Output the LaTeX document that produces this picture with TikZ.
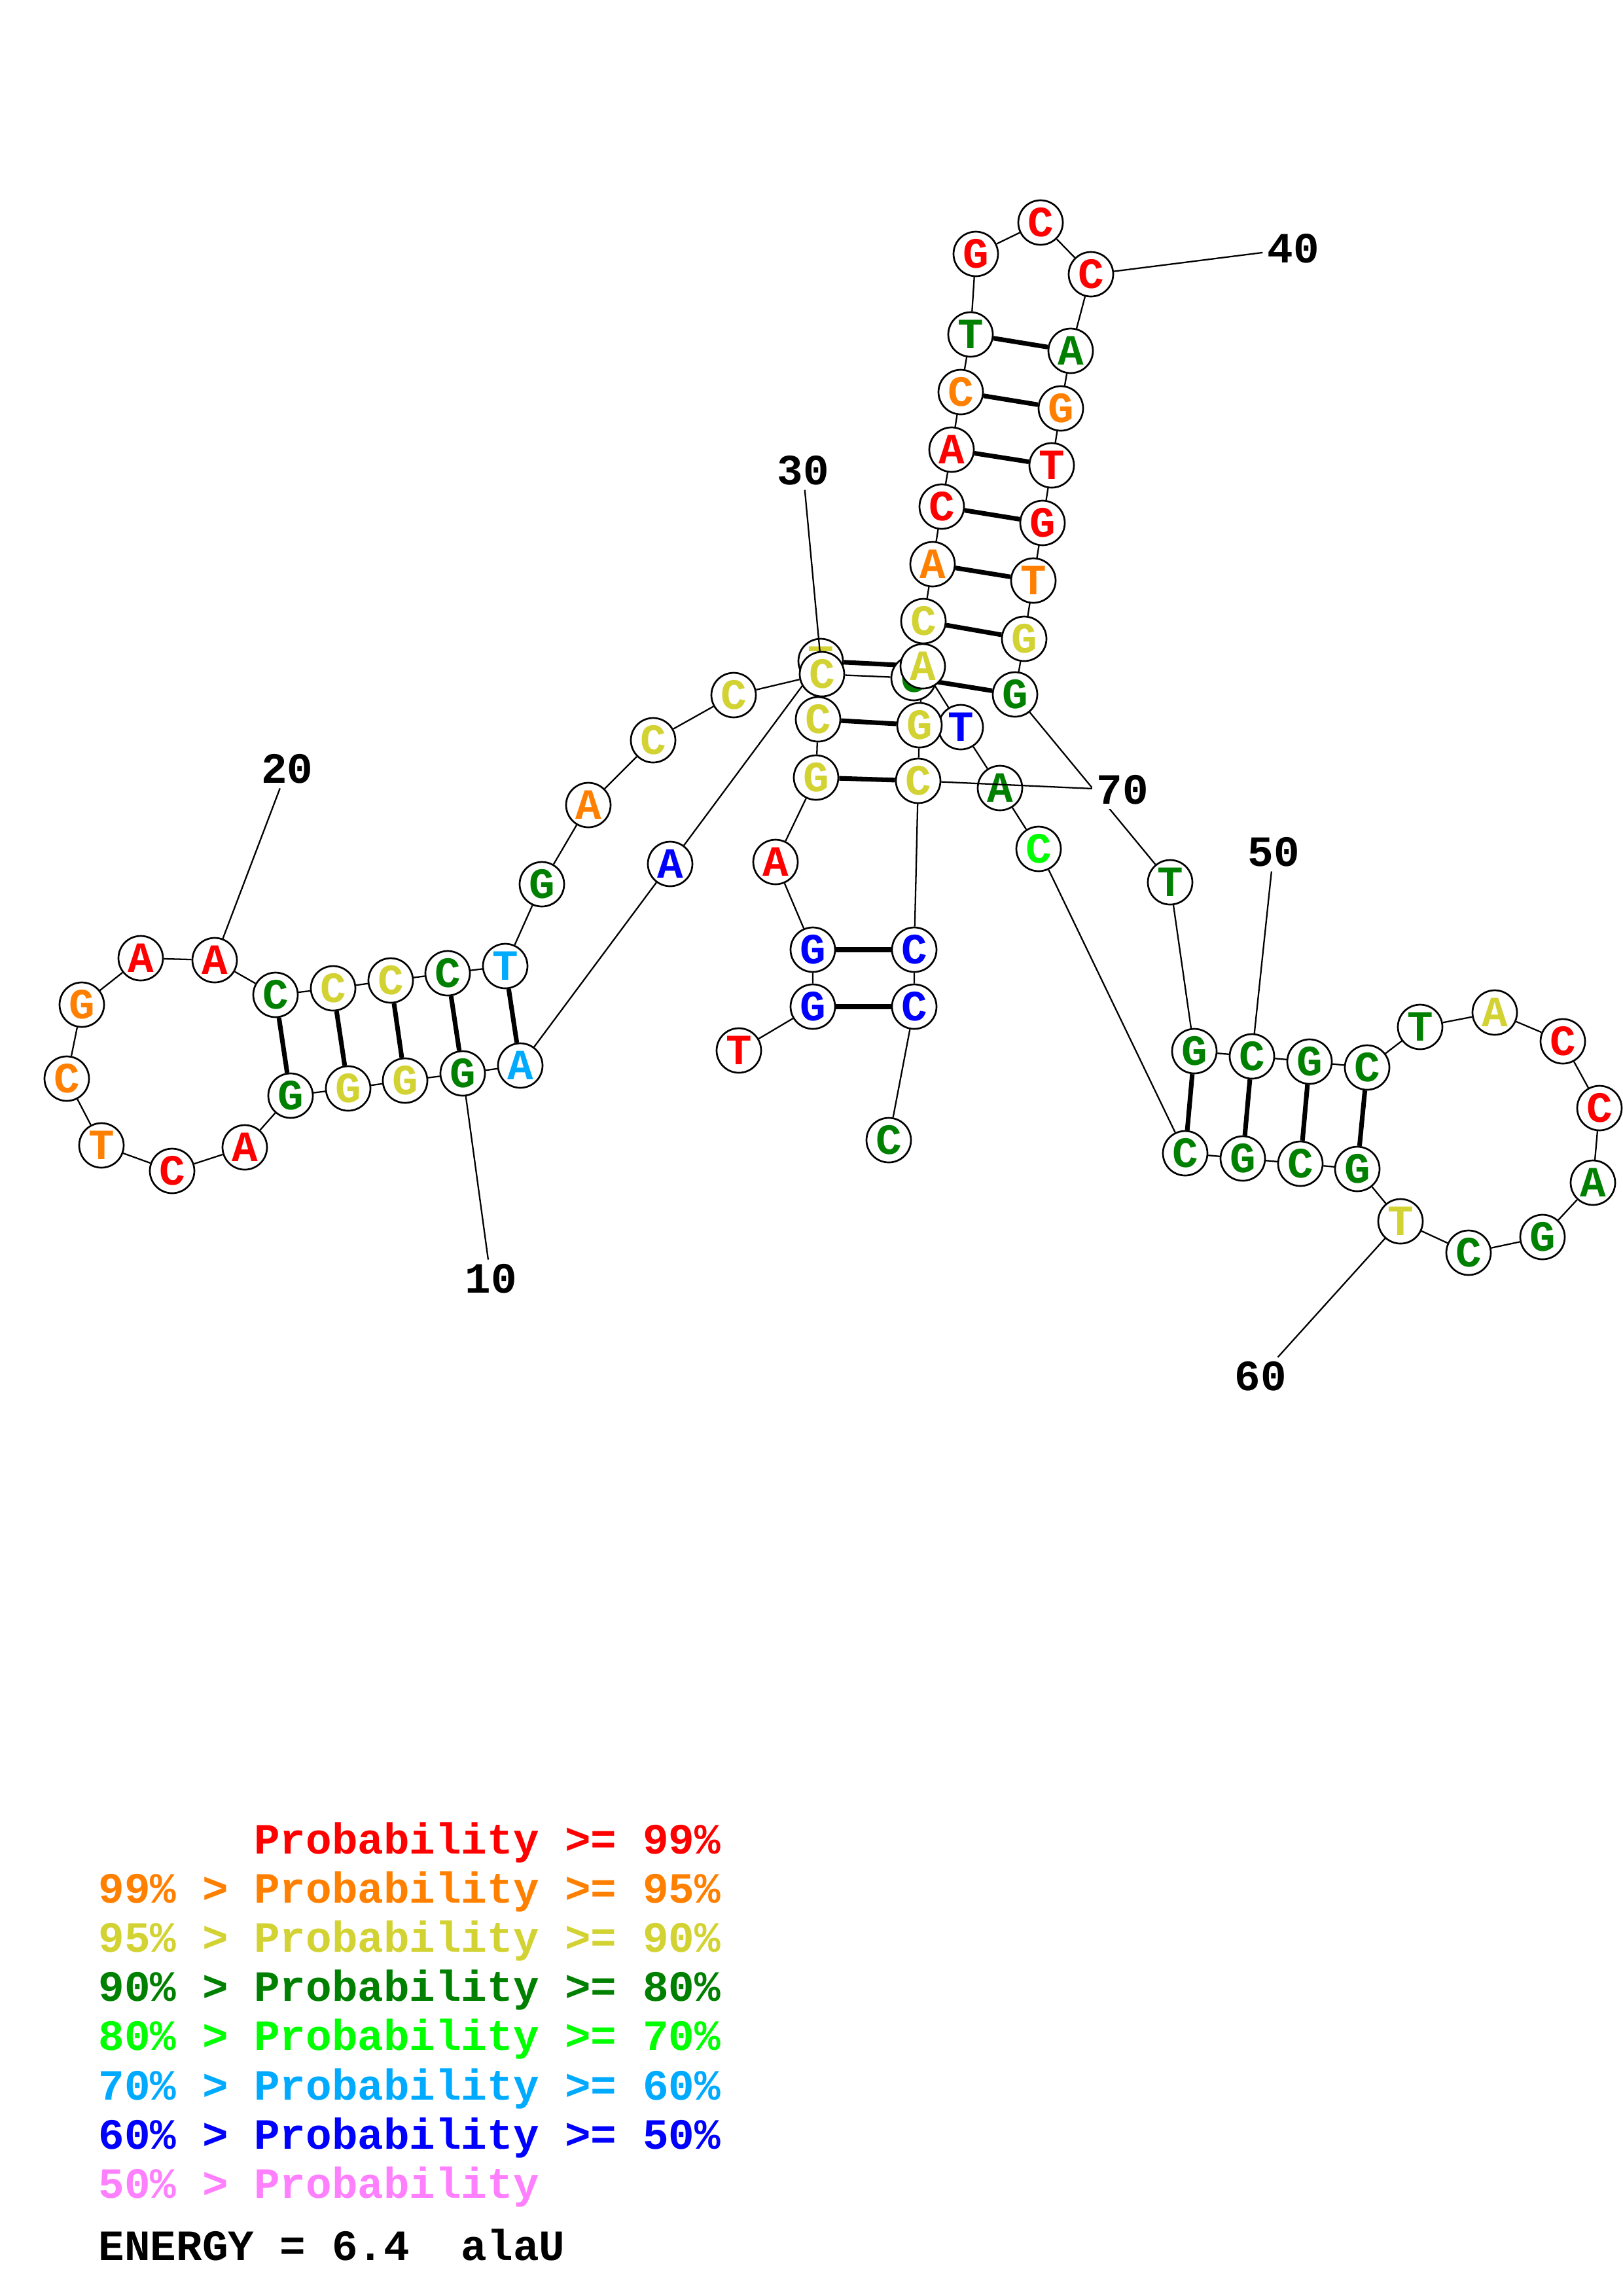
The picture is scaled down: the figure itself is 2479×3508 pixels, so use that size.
\documentclass[tikz,border=0pt]{standalone}
\usepackage{fontspec}
\setmonofont{Liberation Mono}
\usetikzlibrary{backgrounds}
\definecolor{probRed}{HTML}{FF0000}
\definecolor{probOrange}{HTML}{FF8000}
\definecolor{probYellow}{HTML}{D2D232}
\definecolor{probGreen}{HTML}{008000}
\definecolor{probLime}{HTML}{00FF00}
\definecolor{probSky}{HTML}{00AAFF}
\definecolor{probBlue}{HTML}{0000FF}
\definecolor{probPink}{HTML}{FF80FF}
\newcommand{\ntfont}{\ttfamily\bfseries\fontsize{15.9}{16}\selectfont}
\tikzset{
  nt/.style={circle, draw=black, line width=0.65pt, fill=white,
             minimum size=5.76mm, inner sep=0pt, font=\ntfont},
  ntRed/.style={nt, text=probRed},
  ntOrange/.style={nt, text=probOrange},
  ntYellow/.style={nt, text=probYellow},
  ntGreen/.style={nt, text=probGreen},
  ntLime/.style={nt, text=probLime},
  ntSky/.style={nt, text=probSky},
  ntBlue/.style={nt, text=probBlue},
  backbone/.style={line width=0.55pt},
  pairLine/.style={line width=1.7pt},
  numLine/.style={line width=0.55pt},
  numLabel/.style={fill=white, inner sep=1.5pt, font=\ntfont},
  legend/.style={anchor=base west, inner sep=0pt, font=\ntfont},
}

\begin{document}
\begin{tikzpicture}[x=0.084712mm, y=-0.084712mm]
  \useasboundingbox (0,0) rectangle (2479,3508);
  \node[ntRed]    (n1)  at (1129,1605) {T};
  \node[ntBlue]   (n2)  at (1242,1538) {G};
  \node[ntBlue]   (n3)  at (1242,1451) {G};
  \node[ntRed]    (n4)  at (1185,1317) {A};
  \node[ntYellow] (n5)  at (1247,1188) {G};
  \node[ntYellow] (n6)  at (1250,1099) {C};
  \node[ntYellow] (n7)  at (1254,1010) {T};
  \node[ntBlue]   (n8)  at (1024,1320) {A};
  \node[ntSky]    (n9)  at (795,1628) {A};
  \node[ntGreen]  (n10) at (707,1640) {G};
  \node[ntYellow] (n11) at (619,1651) {G};
  \node[ntYellow] (n12) at (532,1663) {G};
  \node[ntGreen]  (n13) at (444,1674) {G};
  \node[ntRed]    (n14) at (374,1753) {A};
  \node[ntRed]    (n15) at (263,1789) {C};
  \node[ntOrange] (n16) at (155,1750) {T};
  \node[ntOrange] (n17) at (102,1648) {C};
  \node[ntOrange] (n18) at (125,1535) {G};
  \node[ntRed]    (n19) at (215,1464) {A};
  \node[ntRed]    (n20) at (328,1467) {A};
  \node[ntGreen]  (n21) at (421,1520) {C};
  \node[ntYellow] (n22) at (509,1510) {C};
  \node[ntYellow] (n23) at (597,1498) {C};
  \node[ntGreen]  (n24) at (684,1487) {C};
  \node[ntSky]    (n25) at (772,1476) {T};
  \node[ntGreen]  (n26) at (828,1351) {G};
  \node[ntOrange] (n27) at (899,1230) {A};
  \node[ntYellow] (n28) at (998,1131) {C};
  \node[ntYellow] (n29) at (1121,1062) {C};
  \node[ntYellow] (n30) at (1256,1030) {C};
  \node[ntGreen]  (n31) at (1396,1036) {C};
  \node[ntYellow] (n32) at (1411,949) {C};
  \node[ntOrange] (n33) at (1425,862) {A};
  \node[ntRed]    (n34) at (1439,774) {C};
  \node[ntRed]    (n35) at (1454,687) {A};
  \node[ntOrange] (n36) at (1468,599) {C};
  \node[ntGreen]  (n37) at (1483,511) {T};
  \node[ntRed]    (n38) at (1491,388) {G};
  \node[ntRed]    (n39) at (1590,340) {C};
  \node[ntRed]    (n40) at (1667,419) {C};
  \node[ntGreen]  (n41) at (1636,536) {A};
  \node[ntOrange] (n42) at (1621,624) {G};
  \node[ntRed]    (n43) at (1607,711) {T};
  \node[ntRed]    (n44) at (1593,799) {G};
  \node[ntOrange] (n45) at (1579,887) {T};
  \node[ntYellow] (n46) at (1565,976) {G};
  \node[ntGreen]  (n47) at (1551,1061) {G};
  \node[ntGreen]  (n48) at (1788,1348) {T};
  \node[ntGreen]  (n49) at (1825,1606) {G};
  \node[ntGreen]  (n50) at (1913,1614) {C};
  \node[ntGreen]  (n51) at (2001,1622) {G};
  \node[ntGreen]  (n52) at (2089,1631) {C};
  \node[ntGreen]  (n53) at (2170,1569) {T};
  \node[ntYellow] (n54) at (2284,1547) {A};
  \node[ntRed]    (n55) at (2388,1591) {C};
  \node[ntRed]    (n56) at (2444,1693) {C};
  \node[ntGreen]  (n57) at (2434,1807) {A};
  \node[ntGreen]  (n58) at (2357,1890) {G};
  \node[ntGreen]  (n59) at (2244,1914) {C};
  \node[ntYellow] (n60) at (2140,1866) {T};
  \node[ntGreen]  (n61) at (2074,1786) {G};
  \node[ntGreen]  (n62) at (1987,1778) {C};
  \node[ntGreen]  (n63) at (1899,1770) {G};
  \node[ntGreen]  (n64) at (1811,1762) {C};
  \node[ntLime]   (n65) at (1587,1297) {C};
  \node[ntGreen]  (n66) at (1528,1204) {A};
  \node[ntBlue]   (n67) at (1468,1111) {T};
  \node[ntYellow] (n68) at (1410,1018) {A};
  \node[ntYellow] (n69) at (1405,1108) {G};
  \node[ntYellow] (n70) at (1403,1193) {C};
  \node[ntBlue]   (n71) at (1397,1451) {C};
  \node[ntBlue]   (n72) at (1397,1538) {C};
  \node[ntGreen]  (n73) at (1358,1742) {C};

  \begin{scope}[on background layer]
    \fill[white] (0,0) rectangle (2479,3508);
    \draw[backbone] (n1) -- (n2) -- (n3) -- (n4) -- (n5) -- (n6) -- (n7) -- (n8)
      -- (n9) -- (n10) -- (n11) -- (n12) -- (n13) -- (n14) -- (n15) -- (n16)
      -- (n17) -- (n18) -- (n19) -- (n20) -- (n21) -- (n22) -- (n23) -- (n24)
      -- (n25) -- (n26) -- (n27) -- (n28) -- (n29) -- (n30) -- (n31) -- (n32)
      -- (n33) -- (n34) -- (n35) -- (n36) -- (n37) -- (n38) -- (n39) -- (n40)
      -- (n41) -- (n42) -- (n43) -- (n44) -- (n45) -- (n46) -- (n47) -- (n48)
      -- (n49) -- (n50) -- (n51) -- (n52) -- (n53) -- (n54) -- (n55) -- (n56)
      -- (n57) -- (n58) -- (n59) -- (n60) -- (n61) -- (n62) -- (n63) -- (n64)
      -- (n65) -- (n66) -- (n67) -- (n68) -- (n69) -- (n70) -- (n71) -- (n72)
      -- (n73);
    \draw[pairLine] (n2) -- (n72);
    \draw[pairLine] (n3) -- (n71);
    \draw[pairLine] (n5) -- (n70);
    \draw[pairLine] (n6) -- (n69);
    \draw[pairLine] (n7) -- (n68);
    \draw[pairLine] (n9) -- (n25);
    \draw[pairLine] (n10) -- (n24);
    \draw[pairLine] (n11) -- (n23);
    \draw[pairLine] (n12) -- (n22);
    \draw[pairLine] (n13) -- (n21);
    \draw[pairLine] (n31) -- (n47);
    \draw[pairLine] (n32) -- (n46);
    \draw[pairLine] (n33) -- (n45);
    \draw[pairLine] (n34) -- (n44);
    \draw[pairLine] (n35) -- (n43);
    \draw[pairLine] (n36) -- (n42);
    \draw[pairLine] (n37) -- (n41);
    \draw[pairLine] (n49) -- (n64);
    \draw[pairLine] (n50) -- (n63);
    \draw[pairLine] (n51) -- (n62);
    \draw[pairLine] (n52) -- (n61);
  \end{scope}

  \node[numLabel] (lab10) at (750,1954) {10};
  \node[numLabel] (lab20) at (439,1175) {20};
  \node[numLabel] (lab30) at (1227,719) {30};
  \node[numLabel] (lab40) at (1976,380) {40};
  \node[numLabel] (lab50) at (1946,1302) {50};
  \node[numLabel] (lab60) at (1926,2103) {60};
  \node[numLabel] (lab70) at (1715,1207) {70};
  \draw[numLine] (n10) -- (lab10);
  \draw[numLine] (n20) -- (lab20);
  \draw[numLine] (n30) -- (lab30);
  \draw[numLine] (n40) -- (lab40);
  \draw[numLine] (n50) -- (lab50);
  \draw[numLine] (n60) -- (lab60);
  \draw[numLine] (n70) -- (lab70);

  \node[legend, text=probRed]    (leg1) at (150,2832) {\phantom{99\% > }Probability >= 99\%};
  \node[legend, text=probOrange] (leg2) at (150,2907) {99\% > Probability >= 95\%};
  \node[legend, text=probYellow] (leg3) at (150,2982) {95\% > Probability >= 90\%};
  \node[legend, text=probGreen]  (leg4) at (150,3057) {90\% > Probability >= 80\%};
  \node[legend, text=probLime]   (leg5) at (150,3132) {80\% > Probability >= 70\%};
  \node[legend, text=probSky]    (leg6) at (150,3208) {70\% > Probability >= 60\%};
  \node[legend, text=probBlue]   (leg7) at (150,3283) {60\% > Probability >= 50\%};
  \node[legend, text=probPink]   (leg8) at (150,3358) {50\% > Probability};
  \node[legend] (energy) at (150,3453) {ENERGY = 6.4~~alaU};
\end{tikzpicture}
\end{document}
